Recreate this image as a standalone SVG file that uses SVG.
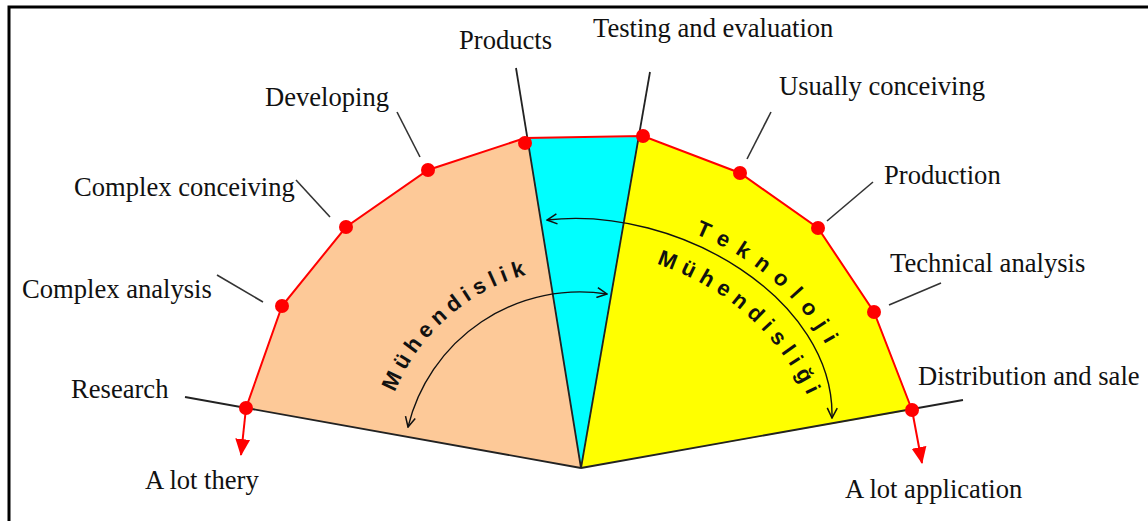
<svg xmlns="http://www.w3.org/2000/svg" width="1148" height="521" viewBox="0 0 1148 521">
<style>
.lbl{font-family:"Liberation Serif","Times New Roman",serif;font-size:26.6px;fill:#111}
.arc{font-family:"Liberation Sans",Arial,sans-serif;font-weight:bold;font-size:22px;fill:#111}
.lead{stroke:#333;stroke-width:1.6;fill:none}
.blk{stroke:#222;stroke-width:1.8;fill:none}
.dot{fill:#ff0000}
.curv{stroke:#111;stroke-width:1.4;fill:none;marker-start:url(#oa);marker-end:url(#oa)}
</style>
<defs>
<marker id="oa" viewBox="0 0 12 12" refX="11" refY="6" markerWidth="12" markerHeight="12" markerUnits="userSpaceOnUse" orient="auto-start-reverse">
<path d="M1,1 L11,6 L1,11" fill="none" stroke="#111" stroke-width="1.5"/>
</marker>
<marker id="ra" viewBox="0 0 16 16" refX="15" refY="8" markerWidth="17" markerHeight="17" markerUnits="userSpaceOnUse" orient="auto">
<path d="M0,1 L16,8 L0,15 Z" fill="#ff0000"/>
</marker>
<path id="p1" d="M386.8,416 A201,201 0 0,1 563.5,267.8"/>
<path id="p2" d="M690,232 Q795,272 840,372"/>
<path id="p3" d="M645,260 Q765,296 814,410"/>
</defs>
<rect x="0" y="0" width="1148" height="521" fill="#fff"/>
<path d="M9,521 V7 H1148" fill="none" stroke="#000" stroke-width="3"/>

<g id="sectors">
<polygon id="peach" points="581,468 246,408 282,306 346,227 428,170 527,138" fill="#fdc998"/>
<polygon id="cyan" points="527,138 639,137 581,468" fill="#00ffff"/>
<polygon id="yellow" points="639,137 643,136 740,173 818,228 874,312 912,410 581,468" fill="#ffff00"/>
</g>

<g id="connectors">
<line class="blk" x1="185" y1="397" x2="581" y2="468"/>
<line class="blk" x1="581" y1="468" x2="963" y2="400"/>
<line class="blk" x1="516" y1="68" x2="581" y2="468"/>
<line class="blk" x1="650" y1="72" x2="581" y2="468"/>
<line class="lead" x1="397" y1="112" x2="420" y2="157"/>
<line class="lead" x1="296" y1="180" x2="330" y2="217"/>
<line class="lead" x1="217" y1="275" x2="263" y2="302"/>
<line class="lead" x1="771" y1="112" x2="747" y2="159"/>
<line class="lead" x1="873" y1="182" x2="827" y2="221"/>
<line class="lead" x1="941" y1="283" x2="889" y2="305"/>
<polyline points="246,408 282,306 346,227 428,170 525,138 643,136 740,173 818,228 874,312 912,410" fill="none" stroke="#ff0000" stroke-width="2"/>
<line x1="246" y1="408" x2="241" y2="455" stroke="#ff0000" stroke-width="2" marker-end="url(#ra)"/>
<line x1="912" y1="410" x2="922" y2="463" stroke="#ff0000" stroke-width="2" marker-end="url(#ra)"/>
<path class="curv" d="M408,427 A177,177 0 0,1 607,294"/>
<path class="curv" d="M547,220 C680,205 835,300 832,418"/>
</g>

<g id="points">
<circle class="dot" cx="246" cy="408" r="7"/>
<circle class="dot" cx="282" cy="306" r="7"/>
<circle class="dot" cx="346" cy="227" r="7"/>
<circle class="dot" cx="428" cy="170" r="7"/>
<circle class="dot" cx="525" cy="143" r="7"/>
<circle class="dot" cx="643" cy="136" r="7"/>
<circle class="dot" cx="740" cy="173" r="7"/>
<circle class="dot" cx="818" cy="228" r="7"/>
<circle class="dot" cx="874" cy="312" r="7"/>
<circle class="dot" cx="912" cy="410" r="7"/>
</g>

<g id="arc-texts">
<text class="arc" letter-spacing="5.5"><textPath href="#p1" startOffset="25">Mühendislik</textPath></text>
<text class="arc" letter-spacing="10"><textPath href="#p2" startOffset="5">Teknoloji</textPath></text>
<text class="arc" letter-spacing="6.5"><textPath href="#p3" startOffset="12">Mühendisliği</textPath></text>
</g>

<g id="labels">
<text class="lbl" x="459" y="49">Products</text>
<text class="lbl" x="593" y="37">Testing and evaluation</text>
<text class="lbl" x="779" y="95">Usually conceiving</text>
<text class="lbl" x="265" y="106">Developing</text>
<text class="lbl" x="74" y="196">Complex conceiving</text>
<text class="lbl" x="884" y="184">Production</text>
<text class="lbl" x="22" y="298">Complex analysis</text>
<text class="lbl" x="890" y="272">Technical analysis</text>
<text class="lbl" x="71" y="398">Research</text>
<text class="lbl" x="918" y="385">Distribution and sale</text>
<text class="lbl" x="145" y="489">A lot thery</text>
<text class="lbl" x="845" y="498">A lot application</text>
</g>
</svg>
